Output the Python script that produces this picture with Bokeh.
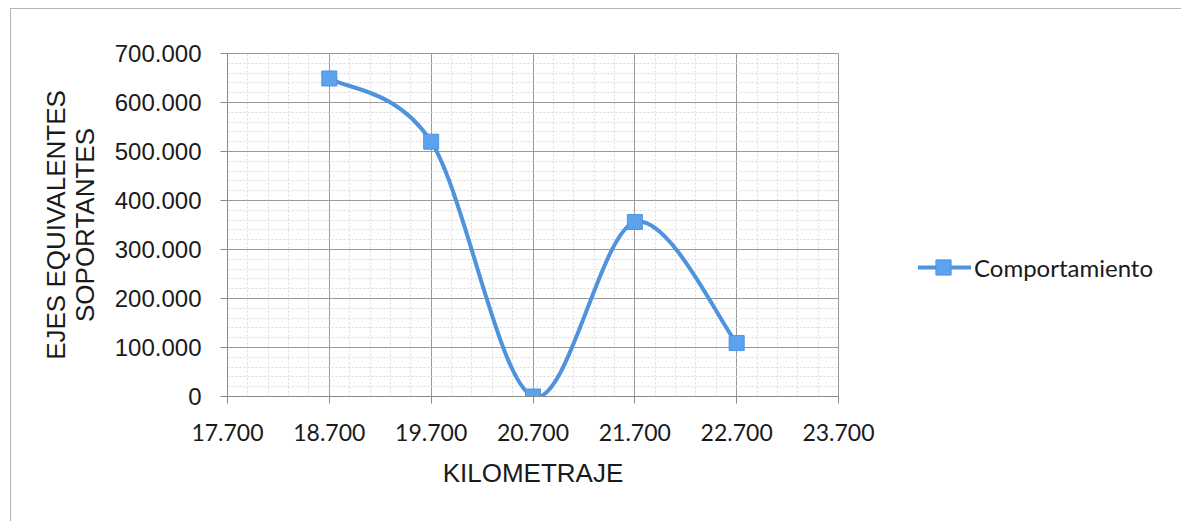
from bokeh.plotting import figure
from bokeh.layouts import row
from bokeh.models import (Range1d, FixedTicker, CustomJSTickFormatter, Legend,
                          LegendItem, ColumnDataSource)
from bokeh.embed import file_html
from bokeh.resources import INLINE

# Kilometraje (m) y ejes equivalentes soportantes
kilometraje = [18700, 19700, 20700, 21700, 22700]
ejes = [649000, 520000, 0, 356000, 109000]
serie = "Comportamiento"

x_ticks = [17700, 18700, 19700, 20700, 21700, 22700, 23700]
y_ticks = [0, 100000, 200000, 300000, 400000, 500000, 600000, 700000]

x_title = "KILOMETRAJE"
y_title = "EJES EQUIVALENTES\nSOPORTANTES"

LINE = "#4F93DD"
MARK = "#5BA3EE"

# thousands grouped with a dot: 17700 -> "17.700"
DOT_THOUSANDS = CustomJSTickFormatter(code="""
    return Math.round(tick).toString().replace(/\\B(?=(\\d{3})+(?!\\d))/g, '.');
""")


def minor_between(ticks, parts=5):
    out = []
    for a, b in zip(ticks[:-1], ticks[1:]):
        step = (b - a) / parts
        out += [a + k * step for k in range(1, parts)]
    return out


def smooth_segments(xs, ys):
    """Cubic Bezier segments (Catmull-Rom style) through the points."""
    px = [xs[0]] + list(xs) + [xs[-1]]
    py = [ys[0]] + list(ys) + [ys[-1]]
    seg = dict(x0=[], y0=[], x1=[], y1=[], cx0=[], cy0=[], cx1=[], cy1=[])
    for i in range(len(xs) - 1):
        seg["x0"].append(xs[i]); seg["y0"].append(ys[i])
        seg["x1"].append(xs[i + 1]); seg["y1"].append(ys[i + 1])
        seg["cx0"].append(xs[i] + (px[i + 2] - px[i]) / 6)
        seg["cy0"].append(ys[i] + (py[i + 2] - py[i]) / 6)
        seg["cx1"].append(xs[i + 1] - (px[i + 3] - px[i + 1]) / 6)
        seg["cy1"].append(ys[i + 1] - (py[i + 3] - py[i + 1]) / 6)
    return seg


# ---- main chart -------------------------------------------------------
p = figure(width=907, height=513,
           x_range=Range1d(17700, 23700), y_range=Range1d(0, 700000),
           output_backend="svg", toolbar_location=None,
           min_border_left=216, min_border_top=44,
           min_border_bottom=126, min_border_right=80,
           background_fill_color="white", border_fill_color="white")
p.outline_line_color = "#9a9a9a"

for ax in (p.xaxis[0], p.yaxis[0]):
    ax.axis_line_color = "#8a8a8a"
    ax.major_tick_line_color = "#8a8a8a"
    ax.major_tick_out = 7
    ax.major_tick_in = 0
    ax.minor_tick_line_color = None
    ax.major_label_text_color = "#1a1a1a"
    ax.axis_label_text_font = "Liberation Sans"
    ax.axis_label_text_font_size = "26px"
    ax.axis_label_text_font_style = "normal"
    ax.axis_label_text_color = "#1a1a1a"
    ax.formatter = DOT_THOUSANDS

p.xaxis.ticker = FixedTicker(ticks=x_ticks, minor_ticks=minor_between(x_ticks))
p.yaxis.ticker = FixedTicker(ticks=y_ticks, minor_ticks=minor_between(y_ticks))

p.xaxis.major_label_text_font = "Lato"
p.xaxis.major_label_text_font_size = "23px"
p.xaxis.major_label_standoff = 20
p.xaxis.axis_label = x_title
p.xaxis.axis_label_standoff = 14

p.yaxis.major_label_text_font = "Liberation Sans"
p.yaxis.major_label_text_font_size = "24px"
p.yaxis.major_label_standoff = 19
p.yaxis.axis_label = y_title
p.yaxis.axis_label_standoff = 12
p.yaxis.axis_label_text_line_height = 0.95

for g in (p.xgrid[0], p.ygrid[0]):
    g.grid_line_color = "#9a9a9a"
    g.grid_line_width = 1
    g.minor_grid_line_color = "#dadada"
    g.minor_grid_line_dash = "2 2"

# smoothed series line and square markers
p.bezier(x0="x0", y0="y0", x1="x1", y1="y1", cx0="cx0", cy0="cy0",
         cx1="cx1", cy1="cy1",
         source=ColumnDataSource(smooth_segments(kilometraje, ejes)),
         line_color=LINE, line_width=4)
p.scatter(kilometraje, ejes, marker="square", size=15,
          fill_color=MARK, line_color=LINE, line_width=1)

# ---- legend panel -----------------------------------------------------
lg = figure(width=264, height=513, x_range=Range1d(0, 1), y_range=Range1d(0, 1),
            output_backend="svg", toolbar_location=None,
            x_axis_location=None, y_axis_location=None, min_border=0,
            background_fill_color="white", border_fill_color="white")
lg.outline_line_color = None
lg.xgrid.visible = False
lg.ygrid.visible = False
# swatch renderers: the series' first point lies outside this panel's ranges
sw_line = lg.line(x=kilometraje[:1], y=ejes[:1], line_color=LINE, line_width=4)
sw_mark = lg.scatter(x=kilometraje[:1], y=ejes[:1], marker="square", size=15,
                     fill_color=MARK, line_color=LINE)
legend = Legend(items=[LegendItem(label=serie, renderers=[sw_line, sw_mark])],
                location=(-3, 110), orientation="vertical",
                border_line_color=None, background_fill_alpha=0,
                padding=0, margin=0, spacing=0,
                glyph_width=56, glyph_height=38, label_height=38,
                label_standoff=3, label_text_font="Lato",
                label_text_font_size="24px", label_text_color="#1a1a1a")
lg.add_layout(legend)

page = row(p, lg, margin=(8, 0, 0, 10), spacing=0,
           styles={"border": "1px solid #b4b4b4"})

open("out.html", "w").write(file_html(page, INLINE))
